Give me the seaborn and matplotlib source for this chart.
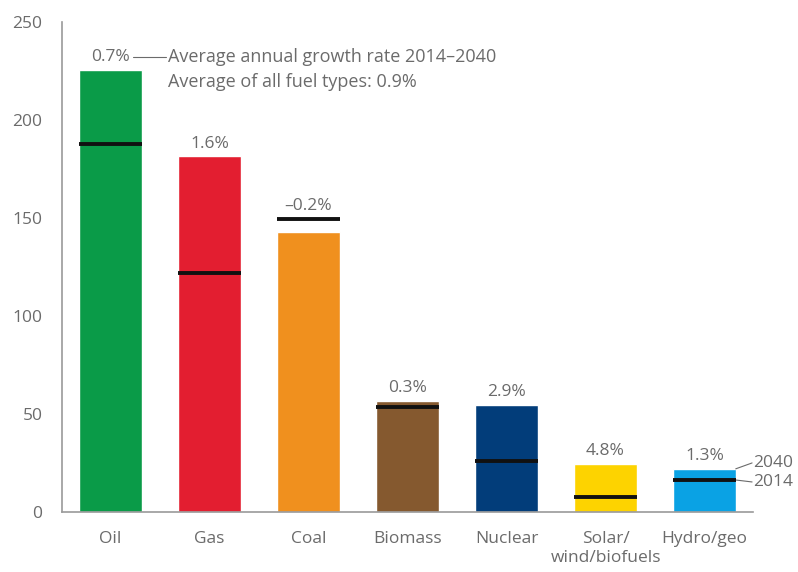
import pandas as pd
import seaborn as sns
import matplotlib.pyplot as plt

# values
fuels = ["Oil", "Gas", "Coal", "Biomass", "Nuclear", "Solar/\nwind/biofuels", "Hydro/geo"]
value_2040 = [225.5, 181.5, 143, 56.5, 54.5, 24.5, 22]
value_2014 = [188, 122, 149.5, 53.5, 26, 7.5, 16.3]
growth = ["0.7%", "1.6%", "\u20130.2%", "0.3%", "2.9%", "4.8%", "1.3%"]
colors = ["#0a9b48", "#e31e30", "#f0901e", "#85592f", "#023d7a", "#fdd300", "#0aa2e4"]
y_ticks = [0, 50, 100, 150, 200, 250]

df = pd.DataFrame({"fuel": fuels, "y2040": value_2040, "y2014": value_2014})

sns.set_theme(style="white")
plt.rcParams["font.family"] = ["Open Sans", "DejaVu Sans"]
txt = "#6b6b6b"

fig = plt.figure(figsize=(7.98, 5.72), dpi=100)
ax = fig.add_axes([0.0777, 0.105, 0.866, 0.8565])

sns.barplot(data=df, x="fuel", y="y2040", hue="fuel", palette=colors,
            legend=False, width=0.63, saturation=1, ax=ax)

half = 0.315
for i, (v14, v40, g) in enumerate(zip(value_2014, value_2040, growth)):
    ax.hlines(v14, i - half, i + half, color="#111111", lw=2.8, zorder=3)
    ax.text(i, max(v14, v40) + 6.5, g, ha="center", va="center",
            fontsize=12.5, color=txt)

# annotation next to the oil label
ax.plot([0.23, 0.56], [232, 232], color=txt, lw=0.8, clip_on=False)
ax.text(0.58, 232, "Average annual growth rate 2014\u20132040", va="center",
        fontsize=13, color=txt)
ax.text(0.58, 219.5, "Average of all fuel types: 0.9%", va="center",
        fontsize=13, color=txt)

# 2040 / 2014 labels on the last bar
last = len(fuels) - 1
ax.plot([last + half, last + 0.48], [value_2040[last], 25], color=txt, lw=0.8, clip_on=False)
ax.plot([last + half, last + 0.48], [value_2014[last], 15.3], color=txt, lw=0.8, clip_on=False)
ax.text(last + 0.49, 25, "2040", va="center", fontsize=12.5, color=txt)
ax.text(last + 0.49, 15.3, "2014", va="center", fontsize=12.5, color=txt)

ax.set_xlim(-0.49, last + 0.49)
ax.set_ylim(0, 250)
ax.set_yticks(y_ticks)
ax.set_xlabel("")
ax.set_ylabel("")
ax.tick_params(axis="both", length=0, labelsize=12.5, colors=txt)
ax.tick_params(axis="y", pad=14)
ax.tick_params(axis="x", pad=14)
sns.despine(ax=ax, top=True, right=True)
for s in ["left", "bottom"]:
    ax.spines[s].set_color("#9a9a9a")
    ax.spines[s].set_linewidth(1.2)

fig.savefig("out.png", dpi=100)
